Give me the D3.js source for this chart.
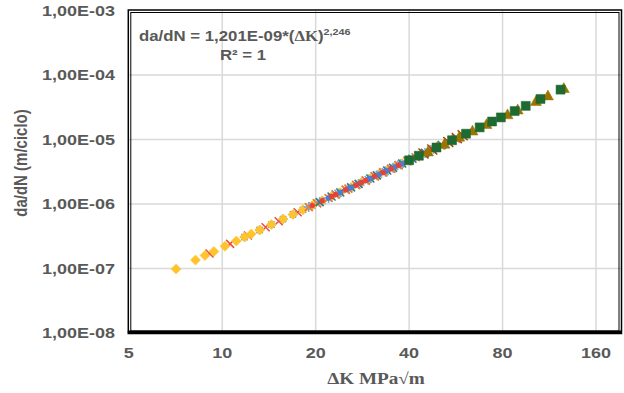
<!DOCTYPE html>
<html>

<head>
  <meta charset="utf-8">
  <title>da/dN vs Delta K</title>
  <script type="text/javascript" src="https://cdn.jsdelivr.net/npm/d3@7"></script>
  <style>
    body { margin: 0; background: #fff; }
    .chart text {
      fill: #595959;
      font-family: "Liberation Sans", Arial, sans-serif;
      font-weight: bold;
    }
  </style>
</head>

<body>
  <svg class="chart"></svg>
</body>
<script>
  //1. Prepare The Data (delta K in MPa*sqrt(m), da/dN in m/ciclo)
  var xTicks = [5, 10, 20, 40, 80, 160];
  var yTicks = [1e-8, 1e-7, 1e-6, 1e-5, 1e-4, 1e-3];

  var redXK = [9.1, 10.6, 12.1, 13.8, 15.2, 17.5, 20.2, 23.2, 25, 27, 29, 31, 33, 35, 37, 39.5];
  var redXRate = [1.71e-7, 2.41e-7, 3.25e-7, 4.36e-7, 5.42e-7, 7.43e-7, 1.03e-6, 1.40e-6, 1.66e-6, 1.97e-6, 2.31e-6, 2.69e-6, 3.09e-6, 3.53e-6, 4.00e-6, 4.63e-6];

  var blueStarK = [11.8, 13.2, 14.4, 15.7, 16.9, 18.2, 19.5, 21, 22.5, 24, 26, 28, 30, 32, 34, 36, 38, 40, 43];
  var blueStarRate = [3.07e-7, 3.95e-7, 4.80e-7, 5.83e-7, 6.88e-7, 8.12e-7, 9.48e-7, 1.12e-6, 1.31e-6, 1.51e-6, 1.81e-6, 2.14e-6, 2.49e-6, 2.88e-6, 3.31e-6, 3.76e-6, 4.24e-6, 4.76e-6, 5.60e-6];

  var diamondK = [7.1, 8.2, 8.8, 9.4, 10.2, 11.1, 11.8, 12.4, 13.2, 14.4, 15.7, 16.9, 18.2, 19.5, 21, 22.5, 24, 26, 28, 30, 32, 34, 36, 38];
  var diamondRate = [9.8e-8, 1.35e-7, 1.59e-7, 1.84e-7, 2.21e-7, 2.67e-7, 3.07e-7, 3.43e-7, 3.95e-7, 4.80e-7, 5.83e-7, 6.88e-7, 8.12e-7, 9.48e-7, 1.12e-6, 1.31e-6, 1.51e-6, 1.81e-6, 2.14e-6, 2.49e-6, 2.88e-6, 3.31e-6, 3.76e-6, 4.24e-6];

  var lightPlusK = [19, 20.6, 22, 23.6, 25.5, 27.5, 29.5, 31.5, 33.5, 35.5, 37.5, 41, 45, 48];
  var lightPlusRate = [8.95e-7, 1.07e-6, 1.24e-6, 1.46e-6, 1.73e-6, 2.05e-6, 2.40e-6, 2.78e-6, 3.20e-6, 3.64e-6, 4.12e-6, 5.03e-6, 6.20e-6, 7.17e-6];

  var orangeXK = [19, 20.2, 22, 23.2, 25, 25.5, 27, 29, 31, 33, 35, 37, 39.5, 42, 44.5, 47.5, 50.5, 53.5, 56.5, 59.5];
  var orangeXRate = [8.95e-7, 1.03e-6, 1.24e-6, 1.40e-6, 1.66e-6, 1.73e-6, 1.97e-6, 2.31e-6, 2.69e-6, 3.09e-6, 3.53e-6, 4.00e-6, 4.63e-6, 5.31e-6, 6.05e-6, 7.01e-6, 8.04e-6, 9.15e-6, 1.03e-5, 1.16e-5];

  var tealXK = [20.6, 22.5, 24, 26, 27.5, 30, 31.5, 34, 35.5, 38, 41, 43, 45, 49, 51, 55];
  var tealXRate = [1.07e-6, 1.31e-6, 1.51e-6, 1.81e-6, 2.05e-6, 2.49e-6, 2.78e-6, 3.31e-6, 3.64e-6, 4.24e-6, 5.03e-6, 5.60e-6, 6.20e-6, 7.51e-6, 8.22e-6, 9.74e-6];

  var blueDotK = [22, 24, 25.5, 26, 28, 29.5, 30, 32, 33.5, 34, 36, 37.5, 38, 40, 43, 46, 49, 52, 55, 58, 61];
  var blueDotRate = [1.24e-6, 1.51e-6, 1.73e-6, 1.81e-6, 2.14e-6, 2.40e-6, 2.49e-6, 2.88e-6, 3.20e-6, 3.31e-6, 3.76e-6, 4.12e-6, 4.24e-6, 4.76e-6, 5.60e-6, 6.52e-6, 7.51e-6, 8.58e-6, 9.74e-6, 1.10e-5, 1.23e-5];

  var redDotK = [19.5, 21, 22.5, 23.2, 25, 27, 28, 29, 31, 33, 35, 37, 39.5, 42, 44.5, 47.5, 50.5, 54];
  var redDotRate = [9.48e-7, 1.12e-6, 1.31e-6, 1.40e-6, 1.66e-6, 1.97e-6, 2.14e-6, 2.31e-6, 2.69e-6, 3.09e-6, 3.53e-6, 4.00e-6, 4.63e-6, 5.31e-6, 6.05e-6, 7.01e-6, 8.04e-6, 9.34e-6];

  var brownXK = [44.5, 47.5, 53.5, 57, 59.5];
  var brownXRate = [6.05e-6, 7.01e-6, 9.15e-6, 1.05e-5, 1.16e-5];

  var triangleK = [46, 52, 58, 64, 71, 83, 89.5, 102.5, 112, 126];
  var triangleRate = [6.52e-6, 8.58e-6, 1.10e-5, 1.37e-5, 1.73e-5, 2.45e-5, 2.91e-5, 3.94e-5, 4.81e-5, 6.26e-5];

  var squareK = [40, 43, 49, 55, 61, 67.5, 74, 79, 87.5, 95, 106, 123];
  var squareRate = [4.76e-6, 5.60e-6, 7.51e-6, 9.74e-6, 1.23e-5, 1.54e-5, 1.90e-5, 2.20e-5, 2.76e-5, 3.32e-5, 4.25e-5, 5.93e-5];

  //2. UI Component Properties
  var SVGWidth = 624,
  SVGHeight = 393,
  plotLeft = 128.8,
  plotRight = 621,
  plotTop = 10.5,
  plotBottom = 333,
  xMax = 192.6,
  stretch = 1.2;

  // series drawn in this order (later on top)
  var series = [
    { k: redXK, rate: redXRate, shape: "x", color: "#ee4a3c", size: 8 },
    { k: blueStarK, rate: blueStarRate, shape: "star", color: "#5b9bd5", size: 9 },
    { k: diamondK, rate: diamondRate, shape: "diamond", color: "#ffc32c", size: 10 },
    { k: lightPlusK, rate: lightPlusRate, shape: "star", color: "#6fa8dc", size: 10 },
    { k: orangeXK, rate: orangeXRate, shape: "x", color: "#ed7d31", size: 8 },
    { k: tealXK, rate: tealXRate, shape: "x", color: "#2f7f86", size: 8 },
    { k: blueDotK, rate: blueDotRate, shape: "circle", color: "#4a7fd6", size: 5 },
    { k: redDotK, rate: redDotRate, shape: "circle", color: "#e8413b", size: 5 },
    { k: brownXK, rate: brownXRate, shape: "x", color: "#9e480e", size: 10 },
    { k: triangleK, rate: triangleRate, shape: "triangle", color: "#9c7500", size: 11 },
    { k: squareK, rate: squareRate, shape: "square", color: "#1e6b32", size: 9 }
  ];

  //3. Scaling
  var x = d3.scaleLog().base(2)
  .domain([5, xMax])
  .range([plotLeft, plotRight]);

  var y = d3.scaleLog()
  .domain([1e-8, 1e-3])
  .range([plotBottom, plotTop]);

  //4. Chart
  var svg = d3.select(".chart")
  .attr("width", SVGWidth)
  .attr("height", SVGHeight);

  // text that is a bit wider than tall, like the picture
  function wideText(sel, tx, ty) {
    return sel.attr("transform", "translate(" + tx + "," + ty + ") scale(" + stretch + ",1)");
  }

  //5. Grid lines
  svg.append("g").selectAll("line")
  .data(xTicks.slice(1))
  .enter().append("line")
  .attr("x1", function(d){ return x(d); })
  .attr("x2", function(d){ return x(d); })
  .attr("y1", plotTop)
  .attr("y2", plotBottom)
  .style("stroke", "#d9d9d9")
  .style("stroke-width", 1.5);

  svg.append("g").selectAll("line")
  .data(yTicks.slice(1, -1))
  .enter().append("line")
  .attr("x1", plotLeft)
  .attr("x2", plotRight)
  .attr("y1", function(d){ return y(d); })
  .attr("y2", function(d){ return y(d); })
  .style("stroke", "#d9d9d9")
  .style("stroke-width", 1.5);

  //6. Markers
  function markerPath(shape, s) {
    var h = s / 2;
    if (shape === "x") return "M" + -h + "," + -h + "L" + h + "," + h + "M" + -h + "," + h + "L" + h + "," + -h;
    if (shape === "star") return "M" + -h + ",0L" + h + ",0M0," + -h + "L0," + h +
      "M" + -h*0.7 + "," + -h*0.7 + "L" + h*0.7 + "," + h*0.7 + "M" + -h*0.7 + "," + h*0.7 + "L" + h*0.7 + "," + -h*0.7;
    if (shape === "diamond") return "M0," + -h + "L" + h + ",0L0," + h + "L" + -h + ",0Z";
    if (shape === "square") return "M" + -h + "," + -h + "H" + h + "V" + h + "H" + -h + "Z";
    if (shape === "triangle") return "M0," + -h + "L" + h + "," + h*0.8 + "L" + -h + "," + h*0.8 + "Z";
    return d3.symbol().type(d3.symbolCircle).size(Math.PI * h * h)();
  }

  series.forEach(function(s) {
    var pts = s.k.map(function(k, i){ return [k, s.rate[i]]; });
    var lined = s.shape === "x" || s.shape === "star";
    svg.append("g").selectAll("path")
    .data(pts)
    .enter().append("path")
    .attr("transform", function(d){ return "translate(" + x(d[0]) + "," + y(d[1]) + ")"; })
    .attr("d", markerPath(s.shape, s.size))
    .style("fill", lined ? "none" : s.color)
    .style("stroke", s.color)
    .style("stroke-width", lined ? 1.5 : 0.5);
  });

  //7. Frame (double line)
  svg.append("rect")
  .attr("x", plotLeft - 0.5)
  .attr("y", plotTop - 0.5)
  .attr("width", plotRight - plotLeft + 1)
  .attr("height", plotBottom - plotTop + 1)
  .style("fill", "none")
  .style("stroke", "#000")
  .style("stroke-width", 1.5);

  svg.append("rect")
  .attr("x", plotLeft + 2)
  .attr("y", plotTop + 2)
  .attr("width", plotRight - plotLeft - 4)
  .attr("height", plotBottom - plotTop - 4)
  .style("fill", "none")
  .style("stroke", "#000")
  .style("stroke-width", 1);

  svg.append("line")
  .attr("x1", plotLeft - 1)
  .attr("x2", plotRight + 1)
  .attr("y1", plotBottom - 1)
  .attr("y2", plotBottom - 1)
  .style("stroke", "#000")
  .style("stroke-width", 3);

  //8. Tick labels
  var fmt = function(d) {
    var e = Math.round(Math.log10(d));
    return "1,00E-" + (e < -9 ? "" : "0") + (-e);
  };

  svg.append("g").selectAll("text")
  .data(yTicks)
  .enter().append("text")
  .each(function(d){ wideText(d3.select(this), 115, y(d) + 5); })
  .style("font-size", "15px")
  .attr("text-anchor", "end")
  .text(fmt);

  svg.append("g").selectAll("text")
  .data(xTicks)
  .enter().append("text")
  .each(function(d){ wideText(d3.select(this), x(d), 358); })
  .style("font-size", "15px")
  .attr("text-anchor", "middle")
  .text(function(d){ return d; });

  //9. Axis titles
  svg.append("text")
  .attr("transform", "translate(27,163) scale(" + stretch + ",1) rotate(-90)")
  .attr("text-anchor", "middle")
  .style("font-size", "15px")
  .text("da/dN (m/ciclo)");

  wideText(svg.append("text"), 376, 384)
  .attr("text-anchor", "middle")
  .style("font-family", "'Liberation Serif', 'Times New Roman', serif")
  .style("font-size", "16px")
  .text("\u0394K MPa\u221Am");

  //10. Trend line equation
  var eq = wideText(svg.append("text"), 139, 41)
  .style("font-size", "14px");
  eq.append("tspan").text("da/dN = 1,201E-09*(");
  eq.append("tspan").style("font-family", "'Liberation Serif', 'Times New Roman', serif").text("\u0394K");
  eq.append("tspan").text(")");
  eq.append("tspan").attr("dy", -6).style("font-size", "9px").text("2,246");

  wideText(svg.append("text"), 243, 60)
  .attr("text-anchor", "middle")
  .style("font-size", "14px")
  .text("R\u00B2 = 1");

</script>

</html>
